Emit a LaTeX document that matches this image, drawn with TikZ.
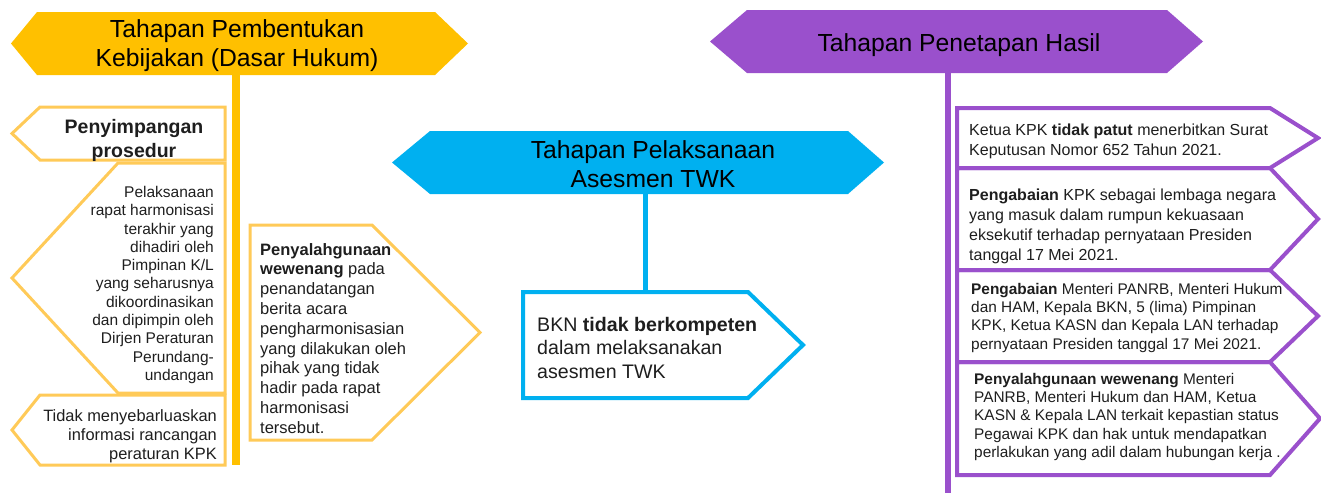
\documentclass[tikz,border=0pt]{standalone}
\usepackage{fontspec}
\setmainfont{Liberation Sans}
\usepackage{tikz}
\usetikzlibrary{calc}
\usepackage{xcolor}

\definecolor{gold}{HTML}{FFC000}
\definecolor{paleGold}{HTML}{FFCA58}
\definecolor{sky}{HTML}{00B0F0}
\definecolor{lilac}{HTML}{9A50CC}
\definecolor{ink}{HTML}{1E1E1E}

\tikzset{
  box/.style={rectangle, inner sep=0pt, outer sep=0pt},
  txt/.style={inner sep=0pt, text=ink},
  ttl/.style={inner sep=0pt, text=black, align=center, font=\fontsize{24.7}{29.5}\selectfont},
  goldline/.style={draw=paleGold, line width=3pt},
  skyline/.style={draw=sky, line width=4pt},
  lilacline/.style={draw=lilac, line width=4pt}
}

\begin{document}
\begin{tikzpicture}[x=1pt, y=-1pt]
    \useasboundingbox (0,0) rectangle (1321,493);

    % Pembentukan kebijakan
    \node[box, minimum width=398pt, minimum height=63pt] (ytitle) at (236,43.5) {};
    \fill[gold] (ytitle.north west) -- (ytitle.north east) -- ($(ytitle.east)+(33,0)$) -- (ytitle.south east)
        -- (ytitle.south west) -- ($(ytitle.west)+(-26,0)$) -- cycle;
    \node[ttl, anchor=north] (ytext) at (237,19) {Tahapan Pembentukan\\Kebijakan (Dasar Hukum)};

    \node[box, minimum width=185pt, minimum height=53pt] (p1) at (132.5,133.5) {};
    \node[box, minimum width=107pt, minimum height=230pt] (p2) at (171.5,278) {};
    \node[box, minimum width=185pt, minimum height=70pt] (p3) at (132.5,430) {};
    \node[box, minimum width=122pt, minimum height=215pt] (r1) at (311,332.5) {};

    \draw[goldline] (p1.north west) -- (p1.north east) -- (p1.south east) -- (p1.south west) -- ($(p1.west)+(-28,0)$) -- cycle;
    \draw[goldline] (p2.north west) -- (p2.north east) -- (p2.south east) -- (p2.south west) -- ($(p2.west)+(-106,0)$) -- cycle;
    \draw[goldline] (p3.north west) -- (p3.north east) -- (p3.south east) -- (p3.south west) -- ($(p3.west)+(-28,0)$) -- cycle;
    \draw[goldline] (r1.north west) -- (r1.north east) -- ($(r1.east)+(108,0)$) -- (r1.south east) -- (r1.south west) -- cycle;

    \draw[gold, line width=8pt] (ytitle.south) -- (ytitle.south |- p3.south);

    \node[txt, anchor=north, align=center, font=\fontsize{19.5}{24}\selectfont\bfseries] (p1text) at (134,119)
        {Penyimpangan\\prosedur};
    \node[txt, anchor=north east, align=right, font=\fontsize{15.5}{18.3}\selectfont] (p2text) at (214,186)
        {Pelaksanaan\\rapat harmonisasi\\terakhir yang\\dihadiri oleh\\Pimpinan K/L\\yang seharusnya\\dikoordinasikan\\dan dipimpin oleh\\Dirjen Peraturan\\Perundang-\\undangan};
    \node[txt, anchor=north east, align=right, font=\fontsize{16.4}{19}\selectfont] (p3text) at (217,409)
        {Tidak menyebarluaskan\\informasi rancangan\\peraturan KPK};
    \node[txt, anchor=north west, align=left, font=\fontsize{16.5}{19.8}\selectfont] (r1text) at (260,243)
        {\textbf{Penyalahgunaan}\\\textbf{wewenang} pada\\penandatangan\\berita acara\\pengharmonisasian\\yang dilakukan oleh\\pihak yang tidak\\hadir pada rapat\\harmonisasi\\tersebut.};

    % Pelaksanaan asesmen
    \node[box, minimum width=418pt, minimum height=63pt] (btitle) at (639,162.5) {};
    \fill[sky] (btitle.north west) -- (btitle.north east) -- ($(btitle.east)+(36,0)$) -- (btitle.south east)
        -- (btitle.south west) -- ($(btitle.west)+(-38,0)$) -- cycle;
    \node[ttl, anchor=north] (btext) at (653,140) {Tahapan Pelaksanaan\\Asesmen TWK};

    \node[box, minimum width=225pt, minimum height=106pt] (bkn) at (635.5,345) {};
    \draw[skyline] (bkn.north west) -- (bkn.north east) -- ($(bkn.east)+(55,0)$) -- (bkn.south east) -- (bkn.south west) -- cycle;
    \coordinate (btop) at ([xshift=6pt]btitle.south);
    \draw[sky, line width=5pt] (btop) -- (btop |- bkn.north);
    \node[txt, anchor=north west, align=left, font=\fontsize{19.6}{23.3}\selectfont] (bkntext) at (537,317)
        {BKN \textbf{tidak berkompeten}\\dalam melaksanakan\\asesmen TWK};

    % Penetapan hasil
    \node[box, minimum width=420pt, minimum height=63pt] (ptitle) at (957,41.5) {};
    \fill[lilac] (ptitle.north west) -- (ptitle.north east) -- ($(ptitle.east)+(36,0)$) -- (ptitle.south east)
        -- (ptitle.south west) -- ($(ptitle.west)+(-37,0)$) -- cycle;
    \node[ttl, anchor=north] (ptext) at (959,33) {Tahapan Penetapan Hasil};

    \coordinate (ptop) at ([xshift=-9pt]ptitle.south);
    \coordinate (pbot) at (948,493);
    \draw[lilac, line width=6pt] (ptop) -- (pbot);

    \node[box, minimum width=313pt, minimum height=60pt] (q1) at (1113.5,138) {};
    \node[box, minimum width=313pt, minimum height=102pt] (q2) at (1113.5,219) {};
    \node[box, minimum width=313pt, minimum height=92pt] (q3) at (1113.5,316) {};
    \node[box, minimum width=313pt, minimum height=113pt] (q4) at (1113.5,418.5) {};

    \draw[lilacline] (q1.north west) -- (q1.north east) -- ($(q1.east)+(48,0)$) -- (q1.south east) -- (q1.south west) -- cycle;
    \draw[lilacline] (q2.north west) -- (q2.north east) -- ($(q2.east)+(48,0)$) -- (q2.south east) -- (q2.south west) -- cycle;
    \draw[lilacline] (q3.north west) -- (q3.north east) -- ($(q3.east)+(48,0)$) -- (q3.south east) -- (q3.south west) -- cycle;
    \draw[lilacline] (q4.north west) -- (q4.north east) -- ($(q4.east)+(50,0)$) -- (q4.south east) -- (q4.south west) -- cycle;

    \node[txt, anchor=north west, align=left, font=\fontsize{16}{20}\selectfont] (q1text) at (969,124)
        {Ketua KPK \textbf{tidak patut} menerbitkan Surat\\Keputusan Nomor 652 Tahun 2021.};
    \node[txt, anchor=north west, align=left, font=\fontsize{16}{20}\selectfont] (q2text) at (969,189)
        {\textbf{Pengabaian} KPK sebagai lembaga negara\\yang masuk dalam rumpun kekuasaan\\eksekutif terhadap pernyataan Presiden\\tanggal 17 Mei 2021.};
    \node[txt, anchor=north west, align=left, font=\fontsize{15.4}{18.3}\selectfont] (q3text) at (971,283)
        {\textbf{Pengabaian} Menteri PANRB, Menteri Hukum\\dan HAM, Kepala BKN, 5 (lima) Pimpinan\\KPK, Ketua KASN dan Kepala LAN terhadap\\pernyataan Presiden tanggal 17 Mei 2021.};
    \node[txt, anchor=north west, align=left, font=\fontsize{15.4}{18.3}\selectfont] (q4text) at (974,373)
        {\textbf{Penyalahgunaan wewenang} Menteri\\PANRB, Menteri Hukum dan HAM, Ketua\\KASN \& Kepala LAN terkait kepastian status\\Pegawai KPK dan hak untuk mendapatkan\\perlakukan yang adil dalam hubungan kerja .};
\end{tikzpicture}
\end{document}
